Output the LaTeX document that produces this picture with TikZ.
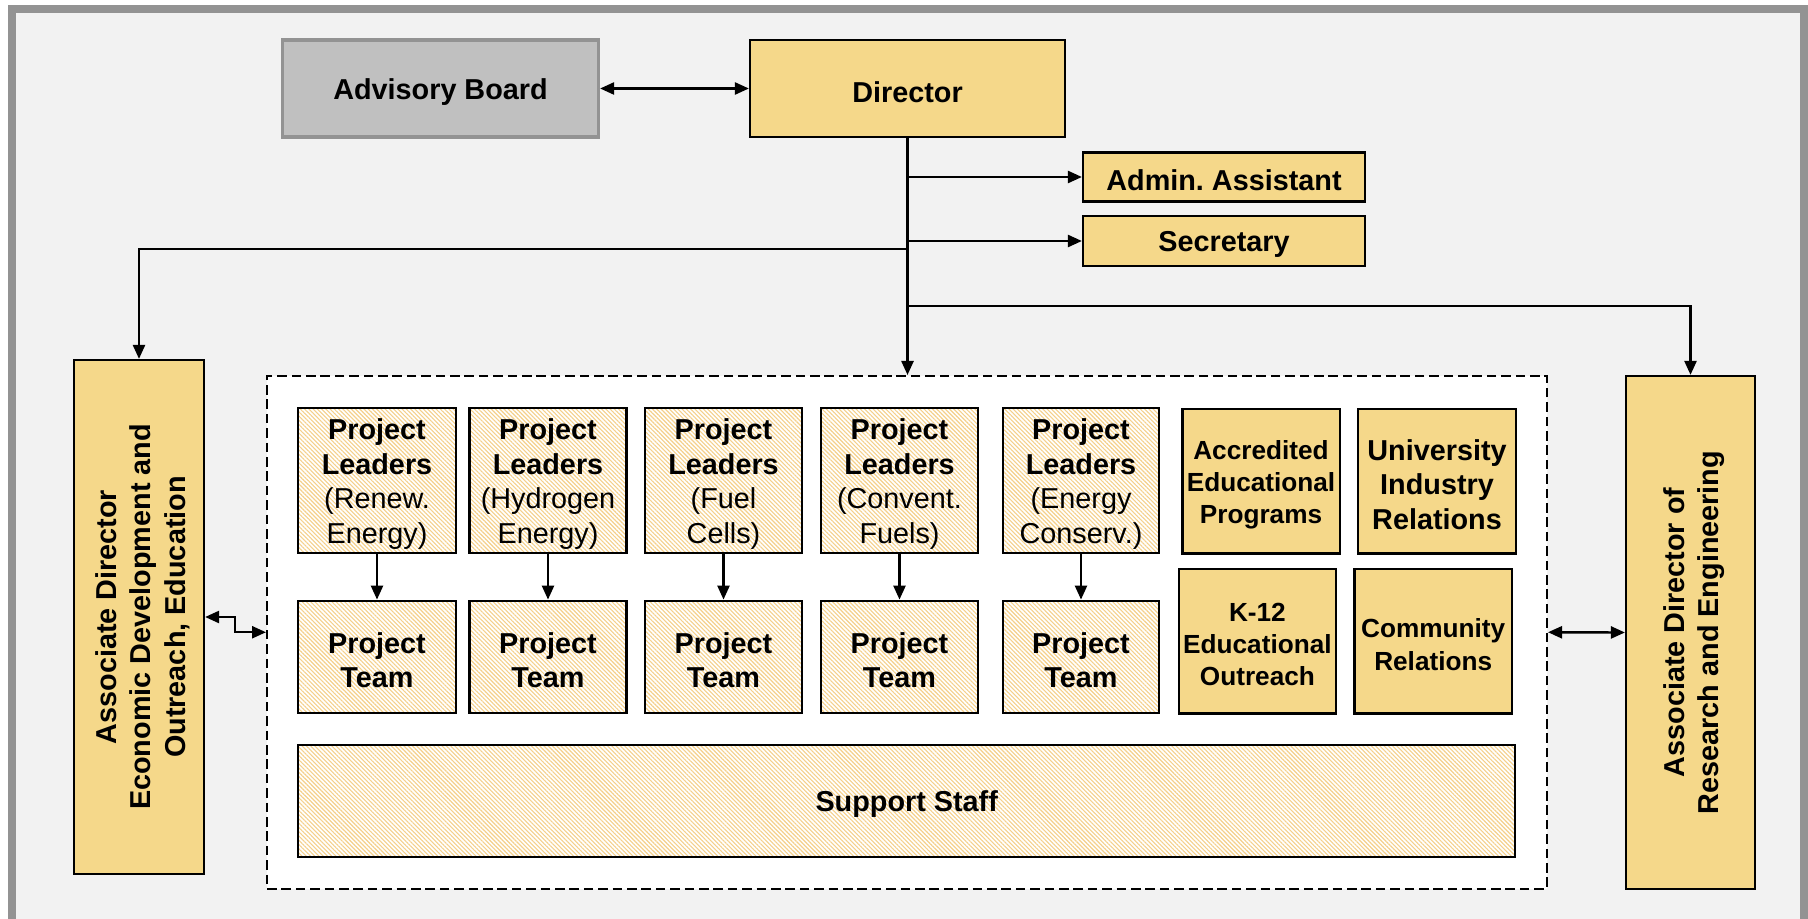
\documentclass[tikz,border=0pt]{standalone}
\usepackage{fontspec}
\setmainfont{Liberation Sans}
\usetikzlibrary{arrows.meta,patterns.meta}
\definecolor{bgc}{HTML}{F2F2F2}
\definecolor{framec}{HTML}{939393}
\definecolor{yel}{HTML}{F5D88A}
\definecolor{boardc}{HTML}{C0C0C0}
\definecolor{hatchc}{HTML}{F5D08A}
\tikzset{
  box/.style={draw=black, line width=1.1pt, inner sep=0pt},
  ybox/.style={box, fill=yel},
  hbox/.style={box, preaction={fill=white}, pattern={Lines[angle=-45,distance=1.5pt,line width=0.55pt]}, pattern color=hatchc},
  txt/.style={align=center, inner sep=0pt, yshift=-1.7pt, font=\fontsize{14.4}{17.3}\selectfont\bfseries},
  stxt/.style={txt, font=\fontsize{13.1}{16.1}\selectfont\bfseries},
  vtext/.style={rotate=90, txt},
  conn/.style={line width=1.2pt, draw=black},
  arr/.style={conn, -{Triangle[length=7pt,width=6pt]}},
  biarr/.style={conn, {Triangle[length=7pt,width=6pt]}-{Triangle[length=7pt,width=6pt]}}
}
\begin{document}
\begin{tikzpicture}[x=0.5pt,y=-0.5pt]
\useasboundingbox (0,0) rectangle (1808,919);
\fill[white] (0,0) rectangle (1808,919);
\fill[bgc] (12,9) rectangle (1804,921);
\draw[framec, line width=4pt] (12,9) rectangle (1804,923);

% top level
\node[box, fill=boardc, draw=framec, line width=1.6pt, minimum width=158pt, minimum height=48.5pt] (adv) at (440.5,88.5) {};
\node[txt] (advt) at (adv.center) {Advisory Board};
\node[ybox, minimum width=157.5pt, minimum height=48.5pt] (dir) at (907.5,88.5) {};
\node[txt] (dirt) at (dir.center) {Director};
\node[ybox, minimum width=141pt, minimum height=24.5pt] (adm) at (1224,177) {};
\node[txt] (admt) at (adm.center) {Admin.\ Assistant};
\node[ybox, minimum width=141pt, minimum height=24.75pt] (sec) at (1224,241) {};
\node[txt] (sect) at (sec.center) {Secretary};

% associate directors
\node[ybox, minimum width=65pt, minimum height=257pt] (lad) at (139,617) {};
\node[vtext] (ladt) at (lad.center) {Associate Director\\Economic Development and\\Outreach, Education};
\node[ybox, minimum width=64.5pt, minimum height=256.5pt] (rad) at (1690.5,632.5) {};
\node[vtext] (radt) at (rad.center) {Associate Director of\\Research and Engineering};

% dashed container
\node[draw=black, fill=white, line width=1pt, dash pattern=on 4.8pt off 2.4pt, minimum width=640pt, minimum height=256.25pt, inner sep=0pt] (dash) at (907,632.25) {};

% project leaders
\node[hbox, minimum width=79pt, minimum height=72.5pt] (pl1) at (377,480.8) {};
\node[hbox, minimum width=78.5pt, minimum height=72.5pt] (pl2) at (548,480.8) {};
\node[hbox, minimum width=78.5pt, minimum height=72.5pt] (pl3) at (723.5,480.8) {};
\node[hbox, minimum width=78.5pt, minimum height=72.5pt] (pl4) at (899.5,480.8) {};
\node[hbox, minimum width=78pt, minimum height=72.5pt] (pl5) at (1081,480.8) {};
\node[txt] (pl1t) at (pl1.center) {Project\\Leaders\\\mdseries(Renew.\\\mdseries Energy)};
\node[txt] (pl2t) at (pl2.center) {Project\\Leaders\\\mdseries(Hydrogen\\\mdseries Energy)};
\node[txt] (pl3t) at (pl3.center) {Project\\Leaders\\\mdseries(Fuel\\\mdseries Cells)};
\node[txt] (pl4t) at (pl4.center) {Project\\Leaders\\\mdseries(Convent.\\\mdseries Fuels)};
\node[txt] (pl5t) at (pl5.center) {Project\\Leaders\\\mdseries(Energy\\\mdseries Conserv.)};

% project teams
\node[hbox, minimum width=79pt, minimum height=56.3pt] (pt1) at (377,657) {};
\node[hbox, minimum width=78.5pt, minimum height=56.3pt] (pt2) at (548,657) {};
\node[hbox, minimum width=78.5pt, minimum height=56.3pt] (pt3) at (723.5,657) {};
\node[hbox, minimum width=78.5pt, minimum height=56.3pt] (pt4) at (899.5,657) {};
\node[hbox, minimum width=78pt, minimum height=56.3pt] (pt5) at (1081,657) {};
\foreach \i in {1,...,5} {\node[txt] (pt\i t) at (pt\i.center) {Project\\Team};}

% education / relations boxes
\node[ybox, minimum width=78.6pt, minimum height=72.2pt] (acc) at (1261,481.2) {};
\node[stxt] (acct) at (acc.center) {Accredited\\Educational\\Programs};
\node[ybox, minimum width=78.8pt, minimum height=72.2pt] (uni) at (1437,481.2) {};
\node[txt] (unit) at (uni.center) {University\\Industry\\Relations};
\node[ybox, minimum width=78.4pt, minimum height=72.2pt] (k12) at (1257.4,641.2) {};
\node[stxt] (k12t) at (k12.center) {K-12\\Educational\\Outreach};
\node[ybox, minimum width=78.8pt, minimum height=72.2pt] (com) at (1433.2,641.2) {};
\node[stxt] (comt) at (com.center) {Community\\Relations};

% support staff
\node[hbox, minimum width=608.4pt, minimum height=55.9pt] (sup) at (906.7,800.9) {};
\node[txt] (supt) at (sup.center) {Support Staff};

% connectors
\coordinate (jA) at (907.5,177);
\coordinate (jS) at (907.5,241);
\coordinate (jL) at (907.5,249);
\coordinate (jR) at (907.5,306);
\draw[biarr] (adv.east) -- (dir.west);
\draw[arr] (dir.south) -- (dir.south |- dash.north);
\draw[arr] (jA) -- (adm.west);
\draw[arr] (jS) -- (sec.west);
\draw[arr] (jL) -| (lad.north);
\draw[arr] (jR) -| (rad.north);
\foreach \i in {1,...,5} {\draw[arr] (pl\i.south) -- (pt\i.north);}
\draw[biarr] (lad.east) -- ++(30,0) |- (dash.west);
\draw[biarr] (dash.east) -- (rad.west);
\end{tikzpicture}
\end{document}
